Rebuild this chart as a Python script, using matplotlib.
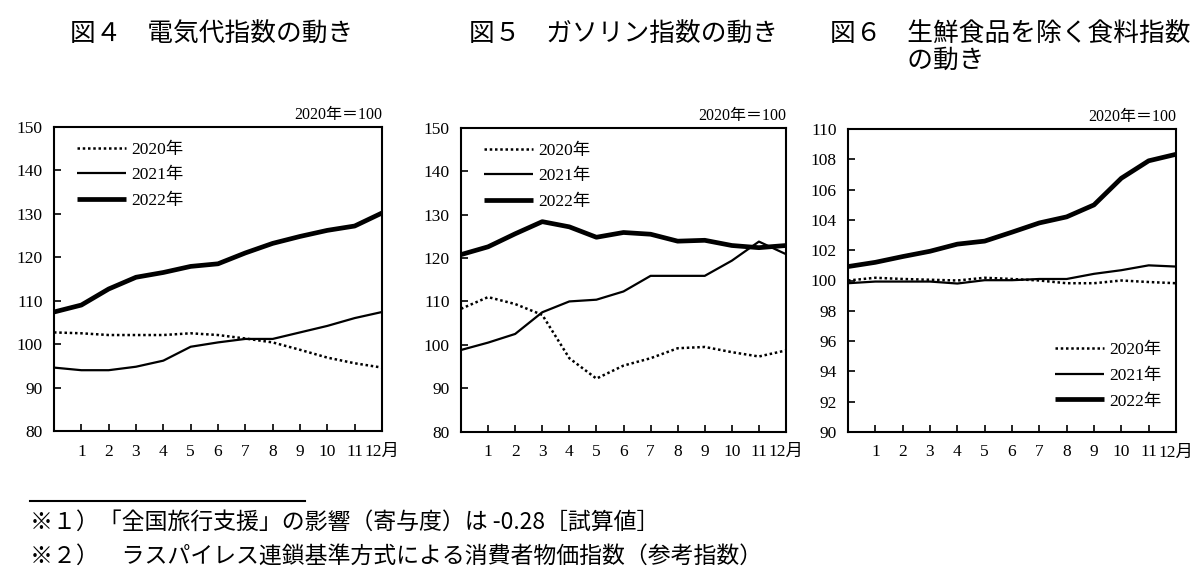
import matplotlib
matplotlib.use("Agg")
import matplotlib.pyplot as plt
from matplotlib.lines import Line2D

plt.rcParams['font.family'] = ['Liberation Serif', 'Noto Sans CJK JP', 'DejaVu Sans']

# ---- data ----
months = list(range(13))  # 0 = previous December, 1..12 = Jan..Dec
month_labels = ['1', '2', '3', '4', '5', '6', '7', '8', '9', '10', '11', '12月']
series_names = ['2020年', '2021年', '2022年']

titles = ['図４　電気代指数の動き',
          '図５　ガソリン指数の動き',
          '図６　生鮮食品を除く食料指数\n　　　の動き']

elec_2020 = [102.7, 102.5, 102.1, 102.1, 102.1, 102.5, 102.1, 101.3, 100.4, 98.7, 96.9, 95.6, 94.6]
elec_2021 = [94.6, 94.0, 94.0, 94.8, 96.2, 99.4, 100.4, 101.2, 101.2, 102.7, 104.2, 106.0, 107.4]
elec_2022 = [107.4, 109.0, 112.7, 115.4, 116.5, 117.9, 118.5, 121.0, 123.2, 124.8, 126.2, 127.2, 130.2]

gas_2020 = [108.3, 111.0, 109.4, 106.9, 96.9, 92.2, 95.2, 96.9, 99.2, 99.5, 98.3, 97.3, 98.7]
gas_2021 = [98.8, 100.5, 102.5, 107.5, 110.0, 110.4, 112.3, 115.9, 115.9, 115.9, 119.4, 123.8, 120.9]
gas_2022 = [120.8, 122.6, 125.6, 128.4, 127.2, 124.8, 125.9, 125.5, 123.9, 124.1, 122.9, 122.4, 122.9]

food_2020 = [100.0, 100.18, 100.1, 100.05, 100.0, 100.18, 100.1, 100.0, 99.82, 99.82, 100.0, 99.9, 99.82]
food_2021 = [99.82, 99.93, 99.93, 99.93, 99.8, 100.02, 100.02, 100.1, 100.1, 100.44, 100.68, 101.0, 100.92]
food_2022 = [100.92, 101.2, 101.58, 101.93, 102.4, 102.6, 103.19, 103.8, 104.2, 104.99, 106.75, 107.9, 108.33]

ylims = [(80, 150), (80, 150), (90, 110)]
yticks = [list(range(80, 151, 10)), list(range(80, 151, 10)), list(range(90, 111, 2))]

base_note = '2020年＝100'
footnote1 = '※１）「全国旅行支援」の影響（寄与度）は -0.28［試算値］'
footnote2 = '※２）　ラスパイレス連鎖基準方式による消費者物価指数（参考指数）'

W, H = 1200, 584
fig = plt.figure(figsize=(W / 100, H / 100), dpi=100)

def frac(l, t, r, b):
    return [l / W, 1 - b / H, (r - l) / W, (b - t) / H]

boxes = [frac(54, 127, 382, 431), frac(461, 128, 786, 431.5), frac(848, 129, 1176, 432)]
data = [(elec_2020, elec_2021, elec_2022), (gas_2020, gas_2021, gas_2022), (food_2020, food_2021, food_2022)]
styles = [dict(linestyle=(0, (1, 1.1)), linewidth=1.8),
          dict(linestyle='-', linewidth=1.6),
          dict(linestyle='-', linewidth=3.4)]
legend_locs = [(0.05, 0.975), (0.05, 0.975), (0.61, 0.32)]
title_pos = [(70, 35), (469, 35), (830, 21)]

cjk = ['Noto Sans CJK JP', 'DejaVu Sans']

for i, (box, series) in enumerate(zip(boxes, data)):
    ax = fig.add_axes(box)
    handles = []
    for s, st, name in zip(series, styles, series_names):
        h, = ax.plot(months, s, color='black', solid_capstyle='butt', label=name, **st)
        handles.append(h)
    ax.set_xlim(0, 12)
    ax.set_ylim(*ylims[i])
    ax.set_yticks(yticks[i])
    ax.set_xticks(months[1:])
    ax.set_xticklabels(month_labels)
    ax.tick_params(axis='both', direction='in', length=5, width=1.2, labelsize=12.5, color='black')
    ax.tick_params(axis='x', pad=9)
    ax.tick_params(axis='y', pad=8)
    for sp in ax.spines.values():
        sp.set_linewidth(1.5)
        sp.set_color('black')
    ax.text(1.0, 1.012, base_note, transform=ax.transAxes, ha='right', va='bottom', fontsize=11.5)
    ax.legend(handles=handles, loc='upper left', bbox_to_anchor=legend_locs[i], frameon=False,
              fontsize=12.5, handlelength=2.8, labelspacing=0.55, handletextpad=0.3, borderaxespad=0)
    tx, ty = title_pos[i]
    fig.text(tx / W, 1 - ty / H, titles[i], ha='left', va='center' if i < 2 else 'top', fontsize=18.5,
             linespacing=1.05, family=cjk)

fig.add_artist(Line2D([30 / W, 305 / W], [1 - 501 / H, 1 - 501 / H], color='black', linewidth=1.5))
fig.text(30 / W, 1 - 522 / H, footnote1, ha='left', va='center', fontsize=16.5, family=cjk)
fig.text(30 / W, 1 - 556 / H, footnote2, ha='left', va='center', fontsize=16.5, family=cjk)

fig.savefig('out.png', dpi=100, facecolor='white')
